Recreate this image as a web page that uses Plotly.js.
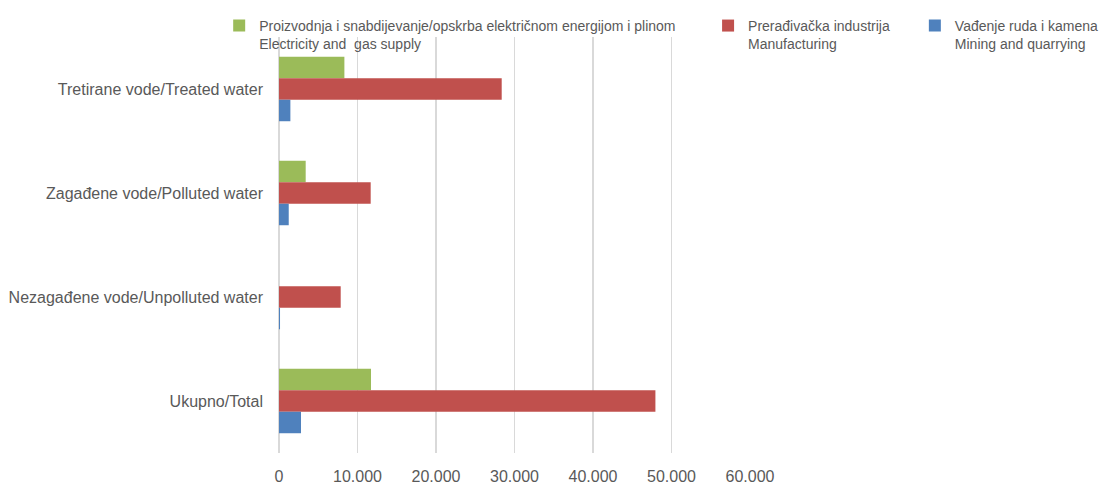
<!DOCTYPE html>
<html>
<head>
<meta charset="utf-8">
<script src="https://cdn.plot.ly/plotly-3.0.1.min.js"></script>
<style>html,body{margin:0;padding:0;background:#fff;}#chart{width:1104px;height:485px;}</style>
</head>
<body>
<div id="chart"></div>
<script>
// Categories, top to bottom as in the reference
var categories = ['Tretirane vode/Treated water', 'Zagađene vode/Polluted water', 'Nezagađene vode/Unpolluted water', 'Ukupno/Total'];
// Series names
var nameElectricity = 'Proizvodnja i snabdijevanje/opskrba električnom energijom i plinom<br>Electricity and\u00A0 gas supply';
var nameManufacturing = 'Prerađivačka industrija<br>Manufacturing';
var nameMining = 'Vađenje ruda i kamena<br>Mining and quarrying';
// Series values
var electricity = [8330, 3400, 0, 11720];
var manufacturing = [28370, 11680, 7860, 47950];
var mining = [1450, 1240, 130, 2800];
// Axis ticks
var xTickVals = [0, 10000, 20000, 30000, 40000, 50000, 60000];

var FONT = '"Liberation Sans", Arial, sans-serif';
var TXT = '#595959';

function bar(name, vals, color, legendId) {
  return {
    type: 'bar', orientation: 'h', name: name, x: vals, y: categories,
    marker: {color: color, line: {width: 0}},
    legend: legendId, hoverinfo: 'x+y'
  };
}

var data = [
  bar(nameElectricity, electricity, '#9BBB59', 'legend'),
  bar(nameManufacturing, manufacturing, '#C0504D', 'legend2'),
  bar(nameMining, mining, '#4F81BD', 'legend3')
];

function leg(x) {
  return {
    x: x, xanchor: 'left', y: 1.065, yanchor: 'top', orientation: 'v',
    valign: 'top', bgcolor: 'rgba(0,0,0,0)',
    font: {family: FONT, size: 14, color: TXT}
  };
}

var layout = {
  width: 1104, height: 485,
  margin: {l: 279, r: 354, t: 37, b: 32, pad: 0, autoexpand: false},
  paper_bgcolor: '#fff', plot_bgcolor: '#fff',
  font: {family: FONT, color: TXT},
  separators: ',.',
  barmode: 'group', bargap: 0.38, bargroupgap: 0,
  showlegend: true,
  legend: leg(-0.127),
  legend2: leg(0.911),
  legend3: leg(1.350),
  xaxis: {
    range: [0, 60000], tickvals: xTickVals, tickformat: ',d',
    showgrid: true, gridcolor: '#d9d9d9', gridwidth: 1.5,
    zeroline: true, zerolinecolor: '#d9d9d9', zerolinewidth: 1.5,
    showline: false, ticks: '', ticklabelstandoff: 12, automargin: false,
    tickfont: {family: FONT, size: 16, color: TXT}, fixedrange: true
  },
  yaxis: {
    type: 'category', autorange: 'reversed', automargin: false,
    showgrid: false, zeroline: false, showline: false, ticks: '',
    ticklabelstandoff: 15,
    tickfont: {family: FONT, size: 16, color: TXT}, fixedrange: true
  }
};

Plotly.newPlot('chart', data, layout, {displayModeBar: false, staticPlot: true});
</script>
</body>
</html>
